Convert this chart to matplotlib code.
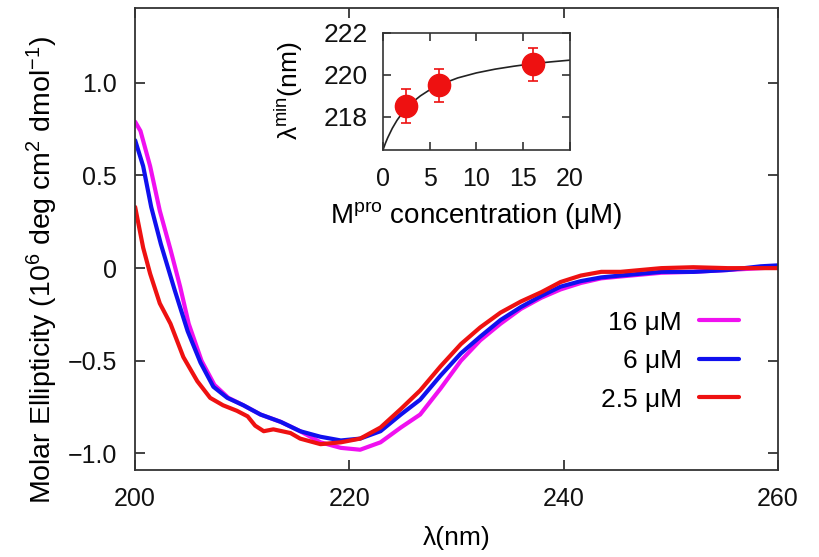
import matplotlib
matplotlib.use("Agg")
import matplotlib.pyplot as plt
from matplotlib.ticker import FixedLocator

plt.rcParams['font.family'] = ['Liberation Sans', 'DejaVu Sans']
plt.rcParams['mathtext.default'] = 'regular'

# ---- main CD spectra data ----
wl_16 = [200.0, 200.5, 201.4, 202.3, 203.3, 204.2, 205.0, 206.2, 207.4, 208.7, 210.1, 211.7,
         213.6, 215.4, 217.3, 219.2, 221.0, 222.9, 224.8, 226.6, 228.5, 230.4, 232.2, 234.1,
         236.0, 237.9, 239.7, 241.6, 243.5, 245.3, 247.2, 249.1, 252.1, 255.3, 258.4, 260.0]
el_16 = [0.79, 0.74, 0.55, 0.31, 0.10, -0.10, -0.30, -0.50, -0.63, -0.70, -0.74, -0.79,
         -0.83, -0.88, -0.94, -0.97, -0.98, -0.94, -0.86, -0.79, -0.65, -0.50, -0.39, -0.30,
         -0.22, -0.16, -0.115, -0.08, -0.055, -0.045, -0.035, -0.025, -0.02, -0.01, 0.0, 0.005]

wl_6 = [200.0, 200.75, 201.5, 202.4, 203.7, 204.9, 206.1, 207.3, 208.6, 210.1, 211.7, 213.6,
        215.4, 217.3, 219.2, 221.0, 222.9, 224.8, 226.6, 228.5, 230.4, 232.2, 234.1, 236.0,
        237.9, 239.7, 241.6, 243.5, 245.3, 247.2, 249.1, 252.1, 255.3, 258.4, 260.0]
el_6 = [0.69, 0.55, 0.33, 0.13, -0.12, -0.34, -0.51, -0.64, -0.70, -0.74, -0.79, -0.83,
        -0.88, -0.91, -0.93, -0.92, -0.88, -0.79, -0.71, -0.58, -0.46, -0.37, -0.28, -0.21,
        -0.15, -0.10, -0.07, -0.05, -0.04, -0.03, -0.02, -0.02, -0.01, 0.01, 0.015]

wl_25 = [200.0, 200.75, 201.4, 202.3, 203.3, 204.5, 205.8, 207.0, 208.2, 209.5, 210.5, 211.2,
         212.0, 212.9, 214.5, 215.4, 217.3, 219.2, 221.0, 222.9, 224.8, 226.6, 228.5, 230.4,
         232.2, 234.1, 236.0, 237.9, 239.7, 241.6, 243.5, 245.3, 247.2, 249.1, 252.1, 255.3,
         258.4, 260.0]
el_25 = [0.33, 0.11, -0.03, -0.19, -0.30, -0.48, -0.61, -0.70, -0.74, -0.77, -0.80, -0.85,
         -0.88, -0.87, -0.89, -0.92, -0.95, -0.94, -0.92, -0.86, -0.76, -0.66, -0.53, -0.41,
         -0.32, -0.24, -0.18, -0.13, -0.075, -0.04, -0.02, -0.02, -0.01, 0.0, 0.005, 0.0,
         0.0, 0.0]

labels = ["16 μM", "6 μM", "2.5 μM"]
colors = ["#F010F0", "#1010EE", "#EE1111"]

x_ticks = [200, 220, 240, 260]
y_ticks = [-1.0, -0.5, 0.0, 0.5, 1.0]
y_ticklabels = ["\u22121.0", "\u22120.5", "0", "0.5", "1.0"]

# ---- inset data ----
conc = [2.5, 6, 16]
lam_min = [218.5, 219.5, 220.5]
lam_err = [0.8, 0.8, 0.8]
fit_x = [0, 0.25, 0.5, 1, 1.5, 2, 3, 4, 5, 6, 8, 10, 12, 14, 16, 18, 20]
fit_y = [216.40, 216.71, 216.98, 217.44, 217.82, 218.13, 218.63, 218.99, 219.28, 219.51,
         219.85, 220.09, 220.27, 220.41, 220.53, 220.62, 220.70]
inset_xticks = [0, 5, 10, 15, 20]
inset_yticks = [218, 220, 222]

fig = plt.figure(figsize=(8.19, 5.57), dpi=100)
ax = fig.add_axes([0.165, 0.156, 0.785, 0.830])

for wl, el, lab, c in zip([wl_16, wl_6, wl_25], [el_16, el_6, el_25], labels, colors):
    ax.plot(wl, el, color=c, lw=3, label=lab, solid_joinstyle='round', solid_capstyle='round')

ax.set_xlim(200, 260)
ax.set_ylim(-1.09, 1.405)
ax.xaxis.set_major_locator(FixedLocator(x_ticks))
ax.yaxis.set_major_locator(FixedLocator(y_ticks))
ax.set_yticklabels(y_ticklabels)
ax.tick_params(direction='in', length=7, width=1.2, top=True, right=True,
               colors='#222222', labelcolor='#111111')
ax.tick_params(axis='x', labelsize=18, pad=12)
ax.tick_params(axis='y', labelsize=18, pad=13)
for s in ax.spines.values():
    s.set_linewidth(1.3)
    s.set_color('#333333')
ax.set_xlabel("λ(nm)", fontsize=19)
ax.xaxis.set_label_coords(0.5, -0.12)
ax.set_ylabel("Molar Ellipticity (10$^6$ deg cm$^2$ dmol$^{-1}$)", fontsize=20.5)
ax.yaxis.set_label_coords(-0.145, 0.433)
ax.yaxis.label.set_va('center')

leg = ax.legend(loc='upper right', bbox_to_anchor=(0.939, 0.345), frameon=False, fontsize=19,
                markerfirst=False, handlelength=1.52, labelspacing=0.55, handletextpad=0.65,
                borderpad=0, borderaxespad=0)

# ---- inset ----
ins = fig.add_axes([0.4676, 0.7307, 0.2284, 0.2101])
ins.plot(fit_x, fit_y, color='#222222', lw=1.2)
ins.errorbar(conc, lam_min, yerr=lam_err, fmt='o', color='#EE1111', ms=16, ecolor='#EE1111',
             elinewidth=1.2, capsize=3.5, capthick=1.2)
ins.set_xlim(0, 20)
ins.set_ylim(216.4, 222)
ins.xaxis.set_major_locator(FixedLocator(inset_xticks))
ins.yaxis.set_major_locator(FixedLocator(inset_yticks))
ins.tick_params(direction='in', length=6, width=1.1, top=True, right=True,
                colors='#222222', labelcolor='#111111')
ins.tick_params(axis='x', labelsize=18, pad=12)
ins.tick_params(axis='y', labelsize=19, pad=11)
for s in ins.spines.values():
    s.set_linewidth(1.2)
    s.set_color('#333333')
ins.set_xlabel("M$^{pro}$ concentration (μM)", fontsize=20)
ins.xaxis.set_label_coords(0.5, -0.43)
ins.set_ylabel("λ$^{min}$(nm)", fontsize=19)
ins.yaxis.set_label_coords(-0.50, 0.51)
ins.yaxis.label.set_va('center')

fig.savefig("out.png", dpi=100)
